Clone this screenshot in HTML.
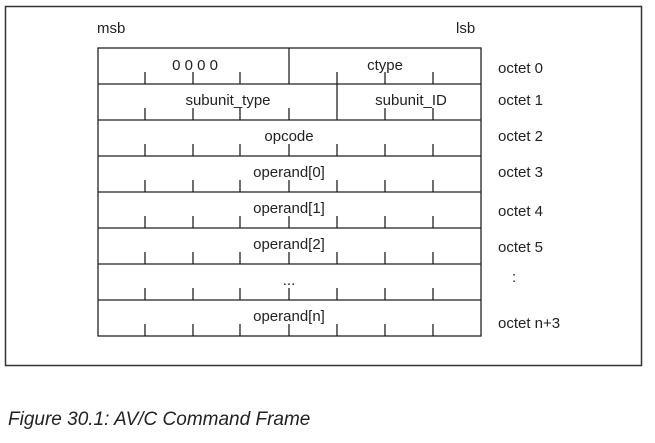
<!DOCTYPE html>
<html><head><style>
body{margin:0;background:#fff;width:655px;height:438px;overflow:hidden}
</style></head><body>
<svg width="655" height="438" xmlns="http://www.w3.org/2000/svg" font-family="Liberation Sans, sans-serif" font-size="15" fill="#222">
<rect x="5.5" y="6.5" width="636" height="359" fill="none" stroke="#333" stroke-width="1.5"/>
<text x="97" y="33">msb</text>
<text x="456" y="33">lsb</text>
<g stroke="#222" stroke-width="1.3" fill="none">
<rect x="98" y="48" width="383" height="288"/>
<line x1="98" y1="84" x2="481" y2="84"/>
<line x1="98" y1="120" x2="481" y2="120"/>
<line x1="98" y1="156" x2="481" y2="156"/>
<line x1="98" y1="192" x2="481" y2="192"/>
<line x1="98" y1="228" x2="481" y2="228"/>
<line x1="98" y1="264" x2="481" y2="264"/>
<line x1="98" y1="300" x2="481" y2="300"/>
<line x1="289" y1="48" x2="289" y2="84"/>
<line x1="337" y1="84" x2="337" y2="120"/>
<path d="M145 84v-12M193 84v-12M240 84v-12M337 84v-12M385 84v-12M433 84v-12
M145 120v-12M193 120v-12M240 120v-12M289 120v-12M385 120v-12M433 120v-12
M145 156v-12M193 156v-12M240 156v-12M289 156v-12M337 156v-12M385 156v-12M433 156v-12
M145 192v-12M193 192v-12M240 192v-12M289 192v-12M337 192v-12M385 192v-12M433 192v-12
M145 228v-12M193 228v-12M240 228v-12M289 228v-12M337 228v-12M385 228v-12M433 228v-12
M145 264v-12M193 264v-12M240 264v-12M289 264v-12M337 264v-12M385 264v-12M433 264v-12
M145 300v-12M193 300v-12M240 300v-12M289 300v-12M337 300v-12M385 300v-12M433 300v-12
M145 336v-12M193 336v-12M240 336v-12M289 336v-12M337 336v-12M385 336v-12M433 336v-12"/>
</g>
<g text-anchor="middle">
<text x="195" y="70">0 0 0 0</text>
<text x="385" y="70">ctype</text>
<text x="228" y="105">subunit_type</text>
<text x="411" y="105">subunit_ID</text>
<text x="289" y="141">opcode</text>
<text x="289" y="177">operand[0]</text>
<text x="289" y="213">operand[1]</text>
<text x="289" y="249">operand[2]</text>
<text x="289" y="285">...</text>
<text x="289" y="321">operand[n]</text>
</g>
<text x="498" y="73">octet 0</text>
<text x="498" y="105">octet 1</text>
<text x="498" y="141">octet 2</text>
<text x="498" y="177">octet 3</text>
<text x="498" y="216">octet 4</text>
<text x="498" y="252">octet 5</text>
<text x="512" y="282">:</text>
<text x="498" y="328">octet n+3</text>
<text x="8" y="425" font-size="19" font-style="italic">Figure 30.1: AV/C Command Frame</text>
</svg>
</body></html>
